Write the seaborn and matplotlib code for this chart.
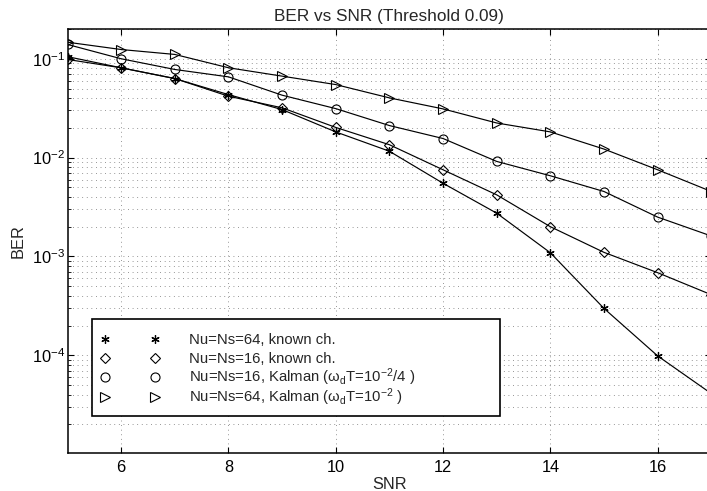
import numpy as np
import pandas as pd
import matplotlib
matplotlib.use('Agg')
import matplotlib.pyplot as plt
import seaborn as sns
from matplotlib.lines import Line2D
from matplotlib.legend_handler import HandlerLine2D
from matplotlib.transforms import Bbox
from matplotlib.ticker import LogLocator, FixedLocator, NullFormatter, LogFormatterSciNotation

# ---------------- data ----------------
snr = [5, 6, 7, 8, 9, 10, 11, 12, 13, 14, 15, 16, 17]
ber_64_known = [0.105, 0.081, 0.063, 0.0434, 0.0306, 0.0182, 0.0116, 0.0055,
                0.00274, 0.00109, 0.000298, 0.0000986, 0.000041]
ber_16_known = [0.0984, 0.081, 0.0631, 0.0418, 0.0319, 0.0202, 0.0135, 0.00753,
                0.0042, 0.0020, 0.0011, 0.000685, 0.00041]
ber_16_kalman = [0.1395, 0.1, 0.0779, 0.0656, 0.0428, 0.0313, 0.0211, 0.0156,
                 0.00915, 0.00655, 0.00454, 0.0025, 0.00161]
ber_64_kalman = [0.147, 0.124, 0.1106, 0.0811, 0.0667, 0.0548, 0.0402, 0.0311,
                 0.0224, 0.0182, 0.0122, 0.00753, 0.00454]

labels = ['Nu=Ns=64, known ch.',
          'Nu=Ns=16, known ch.',
          'Nu=Ns=16, Kalman (\u03c9$_\\mathrm{d}$T=10$^{-2}$/4 )',
          'Nu=Ns=64, Kalman (\u03c9$_\\mathrm{d}$T=10$^{-2}$ )']
title = 'BER vs SNR (Threshold 0.09)'
xticks = [6, 8, 10, 12, 14, 16]
yticks = [1e-4, 1e-3, 1e-2, 1e-1]

# ---------------- style ----------------
sns.set_style('ticks')
plt.rcParams['font.family'] = ['Liberation Sans', 'DejaVu Sans']
plt.rcParams['mathtext.fontset'] = 'custom'
plt.rcParams['mathtext.rm'] = 'Liberation Sans'
plt.rcParams['mathtext.it'] = 'Liberation Sans:italic'
plt.rcParams['mathtext.bf'] = 'Liberation Sans:bold'
plt.rcParams['axes.unicode_minus'] = True

DPI = 100
fig = plt.figure(figsize=(7.07, 4.91), dpi=DPI)
W, H = 707.0, 491.0
x0, x1, ytop, ybot = 67.5, 711.3, 29.0, 453.3
ax = fig.add_axes([x0 / W, (H - ybot) / H, (x1 - x0) / W, (ybot - ytop) / H])

series = [(ber_64_known, dict(marker=(6, 2, 0), markersize=6, markeredgewidth=0.9)),
          (ber_16_known, dict(marker='D', markersize=5, markeredgewidth=0.8)),
          (ber_16_kalman, dict(marker='o', markersize=6.5, markeredgewidth=0.8)),
          (ber_64_kalman, dict(marker='>', markersize=6.5, markeredgewidth=0.8))]

handles = []
for vals, mk in series:
    df = pd.DataFrame({'SNR': snr, 'BER': vals})
    sns.lineplot(data=df, x='SNR', y='BER', ax=ax, color='k', linewidth=0.85,
                 markerfacecolor='none', markeredgecolor='k', legend=False, **mk)
    handles.append(Line2D([], [], linestyle='None', color='k',
                          markerfacecolor='none', markeredgecolor='k', **mk))

ax.set_yscale('log')
ax.set_xlim(5, 17)
ax.set_ylim(1.02e-5, 0.2)
ax.xaxis.set_major_locator(FixedLocator(xticks))
ax.yaxis.set_major_locator(FixedLocator(yticks))
ax.yaxis.set_major_formatter(LogFormatterSciNotation())
ax.yaxis.set_minor_locator(LogLocator(base=10, subs=np.arange(2, 10)))
ax.yaxis.set_minor_formatter(NullFormatter())

grid_kw = dict(color='0.45', linestyle=(0, (1, 4.5)), linewidth=0.6)
ax.grid(True, which='major', axis='x', **grid_kw)
ax.grid(True, which='both', axis='y', **grid_kw)

ax.tick_params(which='both', direction='in', top=True, right=True, colors='k')
ax.tick_params(which='major', length=4, width=0.8, labelsize=11.8)
ax.tick_params(which='minor', length=2, width=0.6)
ax.tick_params(axis='x', pad=5)
ax.tick_params(axis='y', pad=2)
for s in ax.spines.values():
    s.set_color('k')
    s.set_linewidth(1.1)

ax.set_title(title, fontsize=12.4, pad=6)
ax.set_xlabel('SNR', fontsize=11.8, labelpad=1.5)
ax.set_ylabel('BER', fontsize=11.8, labelpad=4)

# ---------------- legend ----------------
fs = 10.7
fs_px = fs * DPI / 72.0
row_px = 19.3          # row pitch in the reference
desc_px = 4.3          # baseline offset inside a row
bp = (97.0 - 4 * row_px) / 2 / fs_px
start = 92 + bp * fs_px
mpad = 0.2
hl = (155 - start + mpad * fs_px) / fs_px
htp = (189 - start - hl * fs_px) / fs_px

bx0 = (92 - x0) / (x1 - x0)
bx1 = (500 - x0) / (x1 - x0)
by_top = (ybot - 319) / (ybot - ytop)
by_bot = (ybot - 416) / (ybot - ytop)
leg = ax.legend(handles, labels, loc='center left',
                bbox_to_anchor=(bx0, by_bot, bx1 - bx0, by_top - by_bot),
                mode='expand', borderaxespad=0, numpoints=2,
                handler_map={Line2D: HandlerLine2D(marker_pad=mpad)},
                handlelength=hl, handletextpad=htp, borderpad=bp,
                labelspacing=0.0, fontsize=fs,
                fancybox=False, framealpha=1, edgecolor='k')
leg.get_frame().set_linewidth(1.2)

# give every legend row the same height (mathtext rows are taller otherwise)
try:
    column = leg._legend_handle_box.get_children()[0]
    for row in column.get_children():
        ta = row.get_children()[1]
        orig = ta.get_bbox

        def fixed(renderer, orig=orig):
            bb = orig(renderer)
            k = renderer.points_to_pixels(1.0) * 72.0 / DPI
            return Bbox.from_bounds(bb.x0, -desc_px * k, bb.width, row_px * k)
        ta.get_bbox = fixed
except Exception:
    pass

fig.savefig('out.png', dpi=DPI)
